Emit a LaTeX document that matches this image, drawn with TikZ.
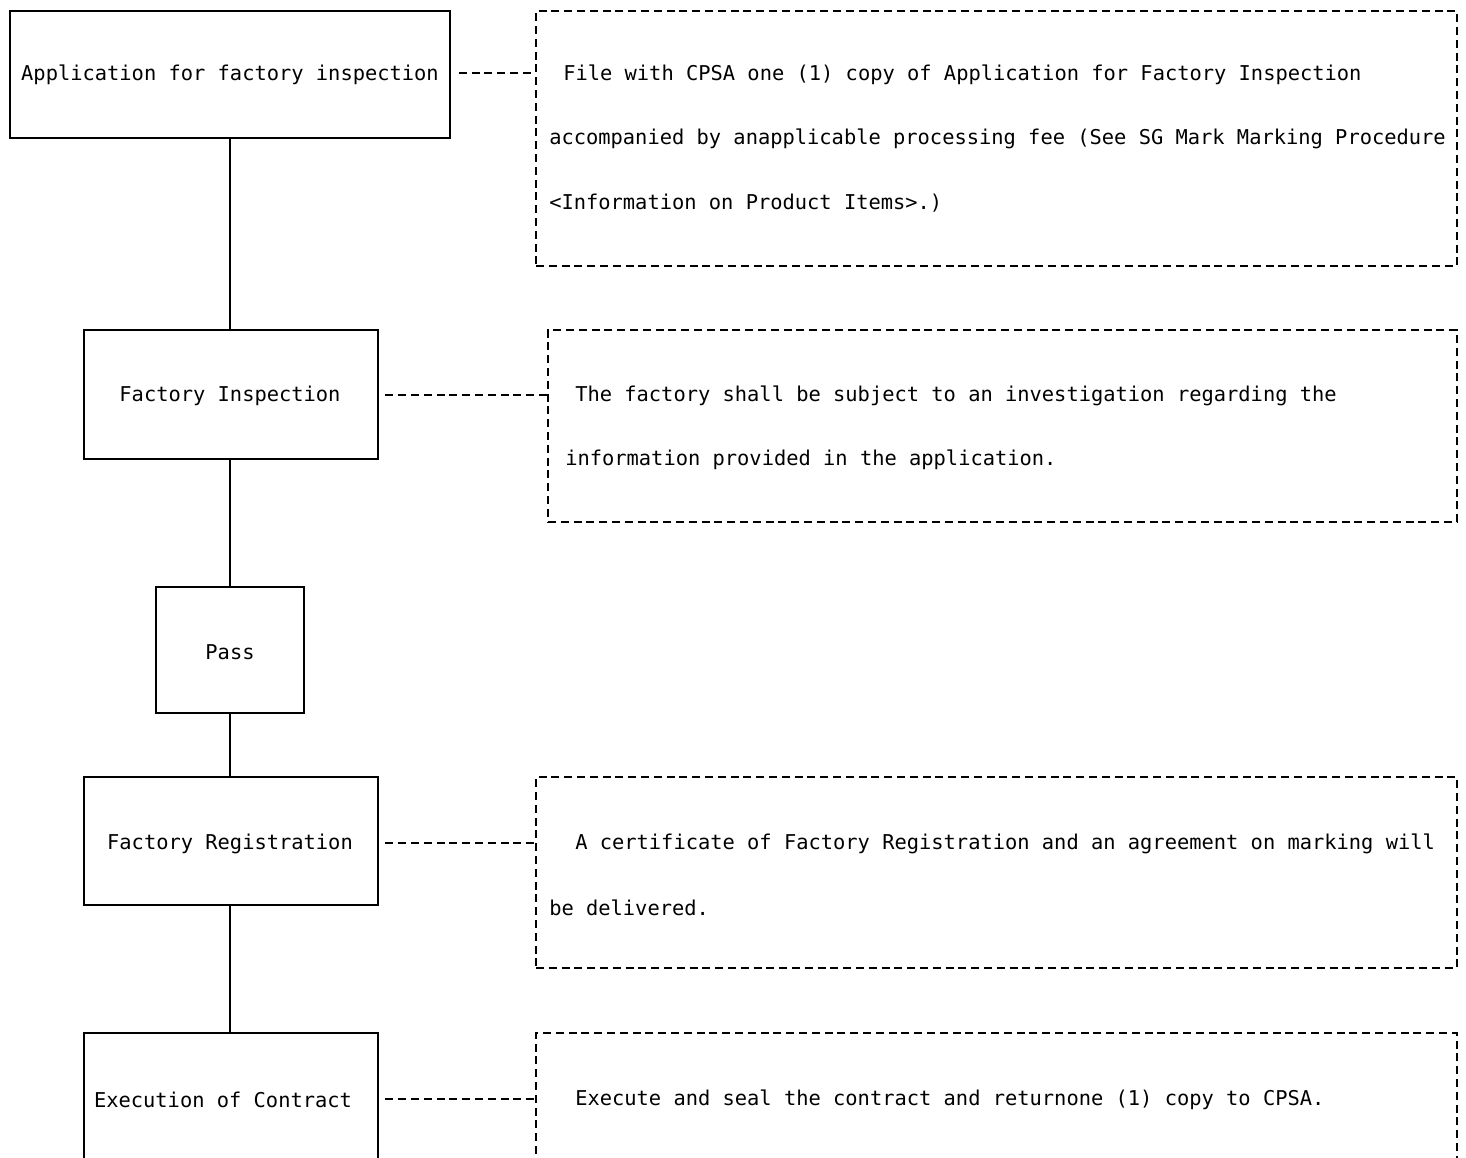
\documentclass[tikz,border=0pt]{standalone}
\usepackage{fontspec}
\newfontfamily\reffont{DejaVu Sans Mono}
\usetikzlibrary{fit}
\begin{document}
\begin{tikzpicture}[x=0.75pt,y=-0.75pt,
  every node/.style={font=\reffont\fontsize{15.3pt}{18pt}\selectfont},
  stepbox/.style={draw, line width=1.1pt, inner sep=0pt},
  notebox/.style={draw, line width=0.9pt, dash pattern=on 6pt off 3.6pt, inner sep=0pt},
  notetext/.style={anchor=west, inner sep=0pt},
  link/.style={line width=1.1pt},
  dlink/.style={line width=0.9pt, dash pattern=on 6pt off 3.6pt}]
\useasboundingbox (0,0) rectangle (1466,1157);
\clip (0,0) rectangle (1466,1157);
% step boxes
\node[stepbox, fit={(10,11) (450,138)}] (app) {};
\node at (230,75) {Application for factory inspection};
\node[stepbox, fit={(84,330) (378,459)}] (insp) {};
\node at (230,396) {Factory Inspection};
\node[stepbox, fit={(156,587) (304,713)}] (pass) {};
\node at (230,652) {Pass};
\node[stepbox, fit={(84,777) (378,905)}] (reg) {};
\node at (230,844) {Factory Registration};
\node[stepbox, fit={(84,1033) (378,1190)}] (exec) {};
\node at (223,1100) {Execution of Contract};
% vertical connectors
\draw[link] (app.south -| pass.center) -- (insp.north -| pass.center);
\draw[link] (insp.south -| pass.center) -- (pass.north);
\draw[link] (pass.south) -- (reg.north -| pass.center);
\draw[link] (reg.south -| pass.center) -- (exec.north -| pass.center);
% notes
\node[notebox, fit={(536,11) (1457,266)}] (n1) {};
\node[notetext] at (563,75) {File with CPSA one (1) copy of Application for Factory Inspection};
\node[notetext] at (549,139) {accompanied by anapplicable processing fee (See SG Mark Marking Procedure};
\node[notetext] at (549,203) {<Information on Product Items>.)};
\node[notebox, fit={(548,330) (1457,522)}] (n2) {};
\node[notetext] at (575,396) {The factory shall be subject to an investigation regarding the};
\node[notetext] at (565,460) {information provided in the application.};
\node[notebox, fit={(536,777) (1457,968)}] (n3) {};
\node[notetext] at (575,844) {A certificate of Factory Registration and an agreement on marking will};
\node[notetext] at (549,908) {be delivered.};
\node[notebox, fit={(536,1033) (1457,1190)}] (n4) {};
\node[notetext] at (575,1100) {Execute and seal the contract and returnone (1) copy to CPSA.};
% dashed links
\draw[dlink] ([xshift=6pt]app.east |- 0,73) -- (n1.west |- 0,73);
\draw[dlink] ([xshift=5pt]insp.east |- 0,395) -- (n2.west |- 0,395);
\draw[dlink] ([xshift=5pt]reg.east |- 0,843) -- (n3.west |- 0,843);
\draw[dlink] ([xshift=5pt]exec.east |- 0,1099) -- (n4.west |- 0,1099);
\end{tikzpicture}
\end{document}
